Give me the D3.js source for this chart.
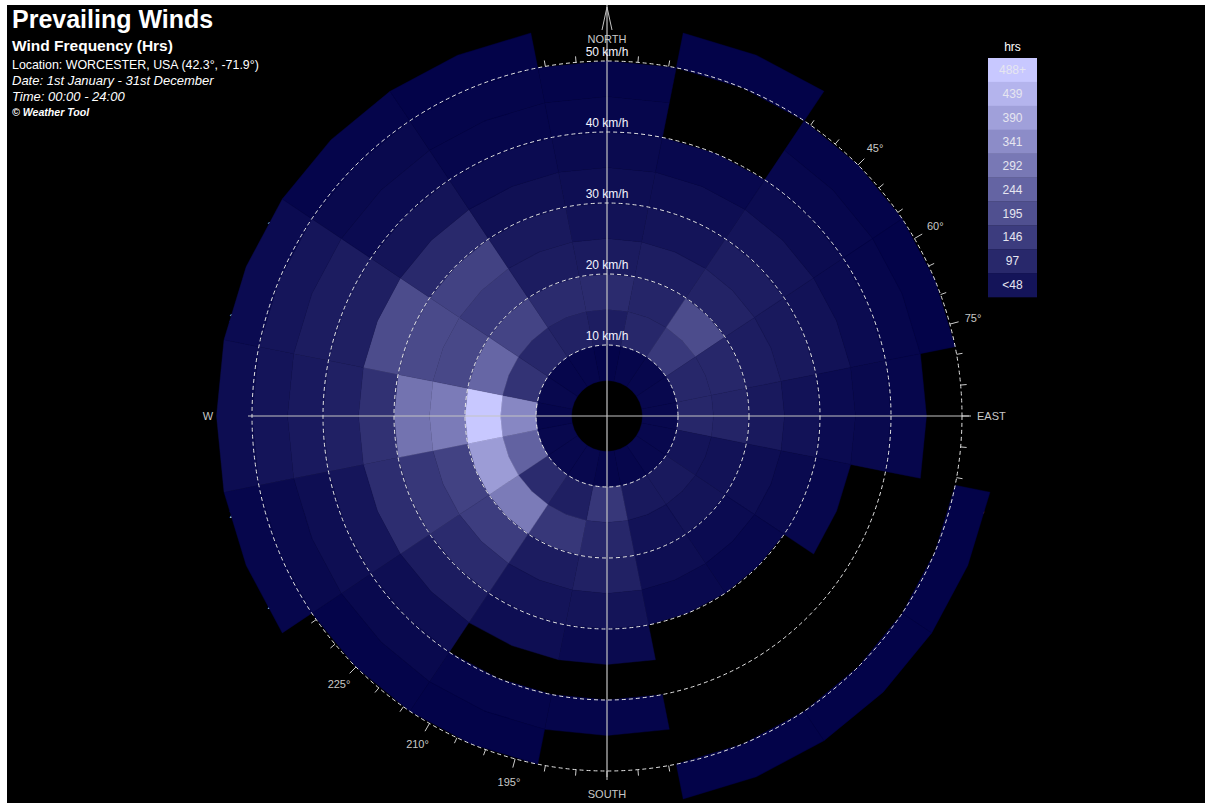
<!DOCTYPE html>
<html>
<head>
<meta charset="utf-8">
<script src="https://cdn.jsdelivr.net/npm/d3@7"></script>
<style>
  html, body { margin: 0; padding: 0; background: #ffffff; }
  svg { display: block; }
  text { font-family: "Liberation Sans", Arial, sans-serif; }
</style>
</head>
<body>
<svg id="chart" width="1205" height="803"></svg>
<script>
// ---------------- DATA ----------------
const directions = ["N","NNE","NE","ENE","E","ESE","SE","SSE","S","SSW","SW","WSW","W","WNW","NW","NNW"];
const speedBins = [5, 10, 15, 20, 25, 30, 35, 40, 45, 50];   // lower edge of each 5 km/h bin
// hours per direction (N, NNE, ... NNW) for each speed bin
const hrs5to10   = [10, 15, 18, 20, 20, 20, 20, 15, 12, 20, 20, 20, 15, 20, 15, 15];
const hrs10to15  = [70, 95, 140, 95, 95, 50, 60, 60, 135, 75, 105, 240, 330, 125, 95, 82];
const hrs15to20  = [105, 90, 185, 95, 88, 45, 48, 45, 95, 135, 300, 380, 488, 250, 165, 105];
const hrs20to25  = [65, 70, 85, 70, 60, 35, 28, 35, 80, 68, 150, 160, 300, 175, 140, 68];
const hrs25to30  = [45, 50, 70, 60, 45, 25, 18, 22, 48, 50, 105, 135, 280, 180, 160, 60];
const hrs30to35  = [35, 35, 50, 45, 28, 18, 0, 0, 25, 33, 68, 110, 120, 185, 100, 38];
const hrs35to40  = [25, 20, 30, 28, 22, 0, 0, 0, 0, 0, 35, 52, 78, 75, 48, 28];
const hrs40to45  = [15, 0, 18, 15, 15, 0, 0, 0, 12, 12, 22, 35, 62, 68, 28, 15];
const hrs45to50  = [10, 0, 10, 8, 0, 0, 0, 0, 0, 8, 10, 22, 50, 52, 22, 12];
const hrs50to55  = [0, 8, 0, 0, 0, 8, 8, 8, 0, 0, 0, 15, 32, 28, 12, 8];
const binSeries = [hrs5to10, hrs10to15, hrs15to20, hrs20to25, hrs25to30,
                   hrs30to35, hrs35to40, hrs40to45, hrs45to50, hrs50to55];
const radiusTicks = [10, 20, 30, 40, 50];
const legendLabels = ["<48", "97", "146", "195", "244", "292", "341", "390", "439", "488+"];
const legendValues = [48.8, 97.6, 146.4, 195.2, 244, 292.8, 341.6, 390.4, 439.2, 488];
const titleLines = [
  "Prevailing Winds",
  "Wind Frequency (Hrs)",
  "Location: WORCESTER, USA (42.3°, -71.9°)",
  "Date: 1st January - 31st December",
  "Time: 00:00 - 24:00",
  "© Weather Tool"
];

// ---------------- LAYOUT ----------------
const svg = d3.select("#chart");
const cx = 607, cy = 416;
const maxSpeed = 55, binWidth = 5;
const r = d3.scaleLinear().domain([0, maxSpeed]).range([0, 390.5]);
const dirStep = 360 / directions.length;
const ang = d3.scaleLinear().domain([0, 360]).range([0, 2 * Math.PI]);
const color = d3.scaleLinear().domain([0, 488]).range(["#000046", "#c8c8ff"]).clamp(true);

svg.append("rect").attr("x", 7).attr("y", 5).attr("width", 1205 - 7).attr("height", 803 - 5).attr("fill", "#000");

const g = svg.append("g").attr("transform", `translate(${cx},${cy})`);

// compass ticks (under the cells)
const tickG = g.append("g");
d3.range(0, 360, 5).forEach(d => {
  const a = ang(d);
  const major = d % 15 === 0;
  const r0 = r(50), r1 = r(50) + (major ? 9 : 6);
  tickG.append("line")
    .attr("x1", r0 * Math.sin(a)).attr("y1", -r0 * Math.cos(a))
    .attr("x2", r1 * Math.sin(a)).attr("y2", -r1 * Math.cos(a))
    .attr("stroke", "#cccccc").attr("stroke-width", 1);
  if (major && d % 90 !== 0) {
    const rl = 379;
    tickG.append("text")
      .attr("x", rl * Math.sin(a)).attr("y", -rl * Math.cos(a))
      .attr("dy", "0.35em").attr("text-anchor", "middle")
      .attr("font-size", 11).attr("fill", "#c8c8c8")
      .text(d + "°");
  }
});

// cells
const cellLine = d3.lineRadial().curve(d3.curveLinearClosed);
const cells = [];
binSeries.forEach((series, bi) => {
  series.forEach((v, di) => {
    if (v > 0) cells.push({ dir: di, bin: bi, value: v });
  });
});
g.append("g").selectAll("path").data(cells).join("path")
  .attr("d", d => {
    const c = d.dir * dirStep;
    const a0 = ang(c - dirStep / 2), am = ang(c), a1 = ang(c + dirStep / 2);
    const rin = r(speedBins[d.bin]), rout = r(speedBins[d.bin] + binWidth);
    return cellLine([[a0, rout], [am, rout], [a1, rout], [a1, rin], [am, rin], [a0, rin]]);
  })
  .attr("fill", d => color(d.value))
  .attr("stroke", d => color(d.value))
  .attr("stroke-width", 0.4);

// axes lines
const axisCol = "#c4c4c4";
g.append("line").attr("x1", 0).attr("y1", -411).attr("x2", 0).attr("y2", 361)
  .attr("stroke", axisCol).attr("stroke-width", 1.2);
g.append("line").attr("x1", -359).attr("y1", 0).attr("x2", 362).attr("y2", 0)
  .attr("stroke", axisCol).attr("stroke-width", 1.2);
g.append("path").attr("d", "M-5,-386 L0,-409 L5,-386")
  .attr("fill", "none").attr("stroke", axisCol).attr("stroke-width", 1);

// dashed speed circles
g.append("g").selectAll("circle").data(radiusTicks).join("circle")
  .attr("r", d => r(d)).attr("fill", "none")
  .attr("stroke", "#e4e4e4").attr("stroke-width", 1).attr("stroke-dasharray", "4,3");

// cardinal labels
const cardG = g.append("g").attr("font-size", 11).attr("fill", "#c8c8c8");
cardG.append("text").attr("x", 0).attr("y", -377).attr("dy", "0.35em").attr("text-anchor", "middle").text("NORTH");
cardG.append("text").attr("x", 0).attr("y", 378).attr("dy", "0.35em").attr("text-anchor", "middle").text("SOUTH");
cardG.append("text").attr("x", 370).attr("y", 0).attr("dy", "0.35em").attr("text-anchor", "start").text("EAST");
cardG.append("text").attr("x", -399).attr("y", 0).attr("dy", "0.35em").attr("text-anchor", "middle").text("W");

// km/h labels
g.append("g").selectAll("text").data(radiusTicks).join("text")
  .attr("x", 0).attr("y", d => -r(d) - 5)
  .attr("text-anchor", "middle").attr("font-size", 12).attr("fill", "#f4f4ff")
  .text(d => d + " km/h");

// legend
const lx = 988, ly = 58, lw = 49, lh = 23.9;
const leg = svg.append("g");
leg.append("text").attr("x", lx + lw / 2).attr("y", 51).attr("text-anchor", "middle")
  .attr("font-size", 12).attr("fill", "#ffffff").text("hrs");
const legendRows = legendLabels.map((t, i) => ({ t, v: legendValues[i] })).reverse();
leg.selectAll("rect.row").data(legendRows).join("rect")
  .attr("class", "row")
  .attr("x", lx).attr("y", (d, i) => ly + i * lh).attr("width", lw).attr("height", lh + 0.3)
  .attr("fill", d => color(d.v));
leg.selectAll("text.lab").data(legendRows).join("text")
  .attr("class", "lab")
  .attr("x", lx + lw / 2).attr("y", (d, i) => ly + i * lh + lh / 2)
  .attr("dy", "0.35em").attr("text-anchor", "middle")
  .attr("font-size", 12).attr("fill", "#e6e6f0")
  .text(d => d.t);

// titles
const tg = svg.append("g").attr("fill", "#ffffff");
tg.append("text").attr("x", 12).attr("y", 28).attr("font-size", 25).attr("font-weight", "bold").text(titleLines[0]);
tg.append("text").attr("x", 12).attr("y", 51).attr("font-size", 15.5).attr("font-weight", "bold").text(titleLines[1]);
tg.append("text").attr("x", 12).attr("y", 69).attr("font-size", 12.4).text(titleLines[2]);
tg.append("text").attr("x", 12).attr("y", 85).attr("font-size", 13).attr("font-style", "italic").text(titleLines[3]);
tg.append("text").attr("x", 12).attr("y", 101).attr("font-size", 13).attr("font-style", "italic").text(titleLines[4]);
tg.append("text").attr("x", 12).attr("y", 116).attr("font-size", 10.6).attr("font-style", "italic").attr("font-weight", "bold").text(titleLines[5]);
</script>
</body>
</html>
